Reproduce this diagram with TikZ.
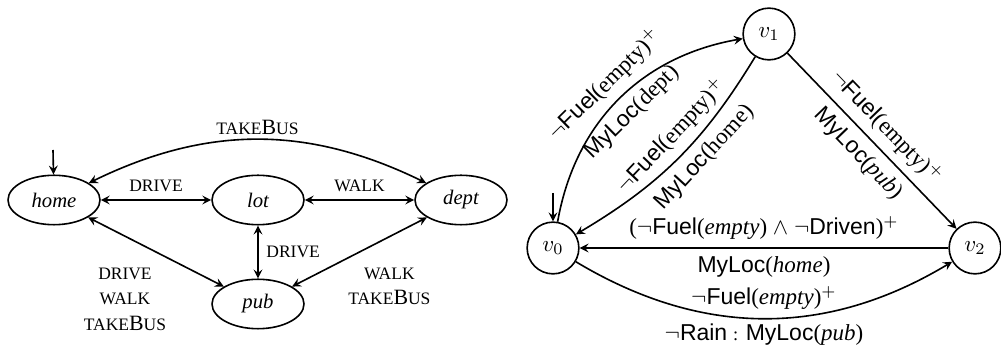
\documentclass[tikz,border=0pt]{standalone}
\usepackage{fontspec}
\setmainfont{Liberation Serif}
\setsansfont{Liberation Sans}
\usetikzlibrary{shapes.geometric, arrows}
\newcommand{\act}[1]{{\fontsize{7.6}{9}\selectfont\MakeUppercase{#1}}}
\newcommand{\fl}[1]{\textsf{#1}}
\tikzstyle{place} = [ellipse, draw=black, line width=0.7pt, minimum width=40pt, minimum height=21.5pt, inner sep=0pt, font=\fontsize{9}{10}\selectfont\itshape]
\tikzstyle{vertex} = [circle, draw=black, line width=0.7pt, minimum size=22.5pt, inner sep=0pt]
\tikzstyle{arrow} = [line width=0.7pt,->,>=stealth]
\tikzstyle{twoway} = [line width=0.7pt,<->,>=stealth]
\tikzstyle{actlabel} = [font=\fontsize{9.5}{11}\selectfont, align=center]

\begin{document}
\begin{tikzpicture}[x=0.435pt, y=0.435pt]
        \useasboundingbox (0,0) rectangle (1001,350);

        % locations
        \node (home) [place] at (54,150) {home};
        \node (lot) [place] at (258,150) {lot};
        \node (dept) [place] at (461,150) {dept};
        \node (pub) [place] at (258,46) {pub};
        \coordinate (homeIn) at (53,200);

        \draw [arrow] (homeIn) -- (home);
        \draw [twoway] (home) to[bend left=26] node[actlabel, above, inner sep=2pt] {\act{take}B\act{us}} (dept);
        \draw [twoway] (home) -- node[actlabel, above] {\act{drive}} (lot);
        \draw [twoway] (lot) -- node[actlabel, above] {\act{walk}} (dept);
        \draw [twoway] (lot) -- node[actlabel, right] {\act{drive}} (pub);
        \draw [twoway] (home) -- node[actlabel, xshift=-13.5pt, yshift=-20.5pt] {\act{drive}\\\act{walk}\\\act{take}B\act{us}} (pub);
        \draw [twoway] (pub) -- node[actlabel, xshift=13pt, yshift=-15pt] {\act{walk}\\\act{take}B\act{us}} (dept);

        % automaton
        \node (v0) [vertex] at (553,102) {$v_0$};
        \node (v1) [vertex] at (769,316) {$v_1$};
        \node (v2) [vertex] at (975,102) {$v_2$};
        \coordinate (v0In) at (553,157);

        \draw [arrow] (v0In) -- (v0);
        \draw [arrow] (v0) to[out=80, in=190] node[sloped, above] {$\neg$\fl{Fuel}(empty)$^+$} node[sloped, below] {\fl{MyLoc}(dept)} (v1);
        \draw [arrow] (v1) to[bend left=14] node[pos=0.45, sloped, above] {$\neg$\fl{Fuel}(empty)$^+$} node[pos=0.42, sloped, below] {\fl{MyLoc}(home)} (v0);
        \draw [arrow] (v1) -- node[sloped, above] {$\neg$\fl{Fuel}(empty)$^+$} node[sloped, below] {\fl{MyLoc}(\textit{pub})} (v2);
        \draw [arrow] (v2) -- node[above] {($\neg$\fl{Fuel}(\textit{empty}) $\wedge$ $\neg$\fl{Driven})$^+$} node[below] {\fl{MyLoc}(\textit{home})} (v0);
        \draw [arrow] (v0) to[bend right=31] node[above] {$\neg$\fl{Fuel}(\textit{empty})$^+$} node[below, inner sep=2pt] {$\neg$\fl{Rain} {\footnotesize:} \fl{MyLoc}(\textit{pub})} (v2);

      \end{tikzpicture}
\end{document}
